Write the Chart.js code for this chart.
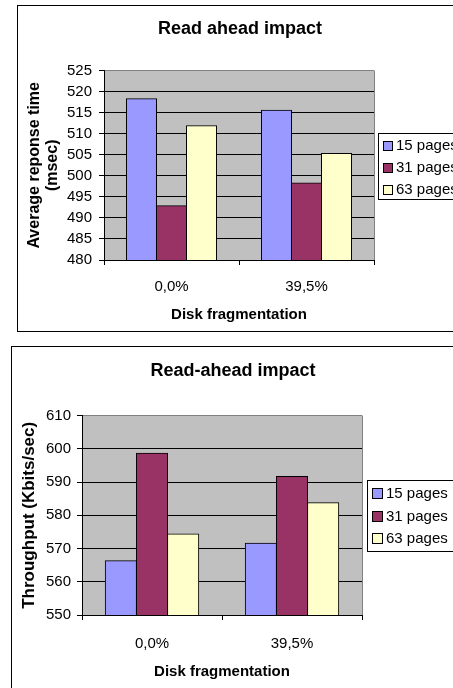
<!DOCTYPE html>
<html lang="en">
<head>
  <meta charset="UTF-8">
  <title>Read ahead impact</title>
  <script src="https://cdn.jsdelivr.net/npm/chart.js"></script>
  <style>
    body {
      margin: 0;
      width: 453px;
      height: 688px;
      overflow: hidden;
      background: #fff;
      position: relative;
    }
    .frame {
      position: absolute;
      border: 1px solid #000;
      box-sizing: border-box;
      pointer-events: none;
    }
    canvas {
      position: absolute;
    }
  </style>
</head>
<body>
  <canvas id="latencyChart" width="446" height="326" style="left:17px;top:5px"></canvas>
  <div class="frame" style="left:17px;top:5px;width:460px;height:327px"></div>

  <canvas id="throughputChart" width="444" height="342" style="left:11px;top:346px"></canvas>
  <div class="frame" style="left:11px;top:346px;width:460px;height:360px"></div>

  <script>
    // data
    const categories = ["0,0%", "39,5%"];
    const seriesNames = ["15 pages", "31 pages", "63 pages"];
    const seriesColors = ["#9999FF", "#993366", "#FFFFCC"];

    const latency15 = [518.3, 515.6];
    const latency31 = [492.9, 498.3];
    const latency63 = [511.9, 505.3];

    const throughput15 = [566.3, 571.6];
    const throughput31 = [598.7, 591.7];
    const throughput63 = [574.4, 583.8];

    Chart.defaults.font.family = "Arial, 'Liberation Sans', sans-serif";
    Chart.defaults.color = "#000";

    // grey plot area with a grey right edge
    const plotFrame = {
      id: "plotFrame",
      beforeDraw(chart) {
        const { ctx, chartArea: a } = chart;
        ctx.save();
        ctx.fillStyle = "#C0C0C0";
        ctx.fillRect(a.left, a.top, a.right - a.left, a.bottom - a.top);
        ctx.restore();
      },
      beforeDatasetsDraw(chart) {
        const { ctx, chartArea: a } = chart;
        ctx.save();
        ctx.strokeStyle = "#808080";
        ctx.lineWidth = 1;
        ctx.beginPath();
        ctx.moveTo(Math.round(a.right) + 0.5, a.top);
        ctx.lineTo(Math.round(a.right) + 0.5, a.bottom);
        ctx.stroke();
        ctx.restore();
      }
    };

    // legend in a bordered box, like the spreadsheet one
    const boxLegend = {
      id: "boxLegend",
      afterDraw(chart, args, o) {
        const ctx = chart.ctx;
        ctx.save();
        ctx.strokeStyle = "#000";
        ctx.lineWidth = 1;
        ctx.strokeRect(o.x + 0.5, o.y + 0.5, o.w, o.h);
        ctx.font = "15px Arial, 'Liberation Sans', sans-serif";
        ctx.textBaseline = "middle";
        chart.data.datasets.forEach((ds, i) => {
          const cy = Math.round(o.y + o.first + i * o.row);
          const top = Math.round(cy - o.box / 2);
          ctx.fillStyle = ds.backgroundColor;
          ctx.fillRect(o.boxX, top, o.box, o.box);
          ctx.strokeRect(o.boxX + 0.5, top + 0.5, o.box, o.box);
          ctx.fillStyle = "#000";
          ctx.fillText(ds.label, o.textX, cy + 1);
        });
        ctx.restore();
      }
    };

    function makeChart(id, cfg) {
      return new Chart(document.getElementById(id), {
        type: "bar",
        data: {
          labels: categories,
          datasets: cfg.series.map((vals, i) => ({
            label: seriesNames[i],
            data: vals,
            backgroundColor: seriesColors[i],
            borderColor: "#000",
            borderWidth: 1,
            inflateAmount: 0.5,
            categoryPercentage: 0.667,
            barPercentage: 1
          }))
        },
        options: {
          responsive: false,
          animation: false,
          layout: { padding: 0 },
          plugins: {
            legend: { display: false },
            tooltip: { enabled: false },
            title: {
              display: true,
              text: cfg.title,
              font: { size: 18, weight: "bold" },
              padding: cfg.titlePad
            },
            boxLegend: cfg.legend
          },
          scales: {
            x: {
              afterFit(s) { s.height = cfg.xHeight; },
              grid: { drawOnChartArea: false, color: "#000", tickLength: 5, offset: true },
              border: { color: "#000" },
              ticks: { font: { size: 15 }, padding: cfg.xTickPad },
              title: {
                display: true,
                text: "Disk fragmentation",
                font: { size: 15, weight: "bold" },
                padding: { top: 0, bottom: cfg.xTitlePad }
              }
            },
            y: {
              min: cfg.min,
              max: cfg.max,
              afterFit(s) { s.width = cfg.yWidth; },
              grid: {
                color: c => (c.tick && c.tick.value === cfg.max ? "#808080" : "#000"),
                tickColor: "#000",
                tickLength: 5
              },
              border: { color: "#000" },
              ticks: { stepSize: cfg.step, font: { size: 15 }, padding: cfg.yTickPad },
              title: {
                display: true,
                text: cfg.yTitle,
                font: cfg.yTitleFont,
                padding: { top: cfg.yTitlePad, bottom: 0 }
              }
            },
            // empty right-hand strip that holds the legend
            side: {
              position: "right",
              afterFit(s) { s.width = cfg.sideWidth; },
              grid: { display: false },
              border: { display: false },
              ticks: { display: false }
            }
          }
        },
        plugins: [plotFrame, boxLegend]
      });
    }

    makeChart("latencyChart", {
      series: [latency15, latency31, latency63],
      title: "Read ahead impact",
      titlePad: { top: 13, bottom: 31 },
      sideWidth: 89,
      min: 480, max: 525, step: 5,
      yWidth: 87, yTickPad: 7,
      yTitle: ["Average reponse time", "(msec)"],
      yTitleFont: { size: 16, weight: "bold", lineHeight: 1.125 },
      yTitlePad: 9,
      xHeight: 71, xTickPad: 13, xTitlePad: 7,
      legend: { x: 361, y: 128, w: 120, h: 66, first: 12, row: 22, box: 9, boxX: 366, textX: 379 }
    });

    makeChart("throughputChart", {
      series: [throughput15, throughput31, throughput63],
      title: "Read-ahead impact",
      titlePad: { top: 14, bottom: 34 },
      sideWidth: 93,
      min: 550, max: 610, step: 10,
      yWidth: 71, yTickPad: 6,
      yTitle: "Throughput (Kbits/sec)",
      yTitleFont: { size: 17, weight: "bold" },
      yTitlePad: 8,
      xHeight: 73, xTickPad: 15, xTitlePad: 7,
      legend: { x: 356, y: 134, w: 120, h: 71, first: 13, row: 22.5, box: 10, boxX: 361, textX: 375 }
    });
  </script>
</body>
</html>
